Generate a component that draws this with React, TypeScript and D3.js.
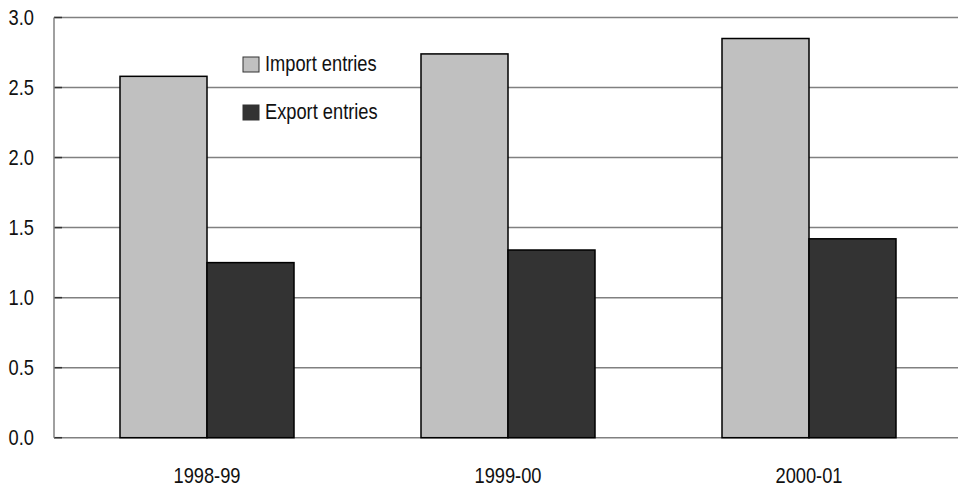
import React from "react";
import * as d3 from "d3";

const categories = ["1998-99", "1999-00", "2000-01"];
const importEntries = [2.58, 2.74, 2.85];
const exportEntries = [1.25, 1.34, 1.42];
const yTicks = [0, 0.5, 1.0, 1.5, 2.0, 2.5, 3.0];
const seriesNames = ["Import entries", "Export entries"];
const seriesColors = ["#c0c0c0", "#333333"];

const W = 958;
const H = 486;
const FONT = "'Liberation Sans', Arial, sans-serif";
const FS = 21.5;
const SX = 0.85;

function T(props: { x: number; y: number; anchor?: string; dy?: string; children: React.ReactNode }) {
  return (
    <text
      transform={`translate(${props.x},${props.y}) scale(${SX},1)`}
      dy={props.dy}
      textAnchor={props.anchor || "start"}
      fontSize={FS}
      fill="#111"
    >
      {props.children}
    </text>
  );
}

export default function App() {
  const left = 54;
  const right = 958;
  const top = 17.5;
  const bottom = 437.7;

  const x = d3.scaleBand<string>().domain(categories).range([56.5, 56.5 + 301 * 3]).padding(0);
  const y = d3.scaleLinear().domain([0, 3]).range([bottom, top]);
  const barW = 87;
  const series = [importEntries, exportEntries];

  return (
    <div style={{ position: "absolute", left: 0, top: 0 }}>
      <svg width={W} height={H} style={{ display: "block" }} fontFamily={FONT}>
        <rect x={0} y={0} width={W} height={H} fill="#fff" />
        {yTicks.map((t) => (
          <g key={t}>
            <line x1={left} x2={right} y1={y(t)} y2={y(t)} stroke="#808080" strokeWidth={1.5} />
            <line x1={left} x2={left + 8} y1={y(t)} y2={y(t)} stroke="#333" strokeWidth={1.5} />
            <T x={34} y={y(t)} dy="0.36em" anchor="end">
              {t.toFixed(1)}
            </T>
          </g>
        ))}
        <line x1={left} x2={left} y1={top} y2={bottom} stroke="#808080" strokeWidth={1.5} />
        {categories.map((c, i) => {
          const cx = (x(c) as number) + x.bandwidth() / 2;
          return (
            <g key={c}>
              {series.map((s, j) => (
                <rect
                  key={j}
                  x={j === 0 ? cx - barW : cx}
                  y={y(s[i])}
                  width={barW}
                  height={bottom - y(s[i])}
                  fill={seriesColors[j]}
                  stroke="#000"
                  strokeWidth={1.5}
                />
              ))}
              <T x={cx} y={483} anchor="middle">
                {c}
              </T>
            </g>
          );
        })}
        {seriesNames.map((n, j) => (
          <g key={n} transform={`translate(243,${57 + j * 48})`}>
            <rect x={0} y={0} width={16} height={15} fill={seriesColors[j]} stroke="#333" strokeWidth={1} />
            <T x={22} y={13.7}>
              {n}
            </T>
          </g>
        ))}
      </svg>
    </div>
  );
}
